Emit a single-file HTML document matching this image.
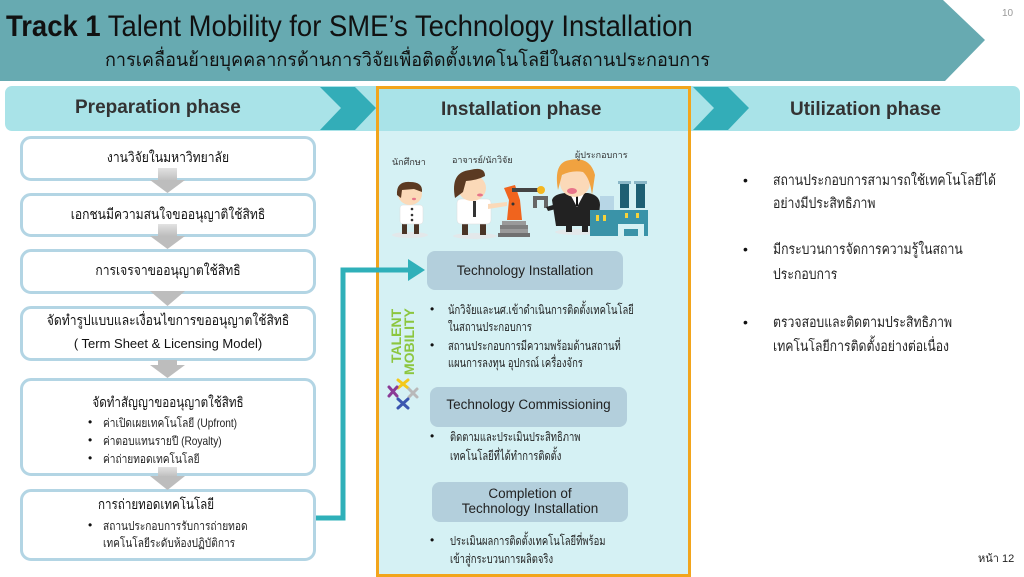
<!DOCTYPE html>
<html><head><meta charset="utf-8">
<style>
*{margin:0;padding:0;box-sizing:border-box}
html,body{width:1024px;height:577px;overflow:hidden;background:#fff}
body{position:relative;font-family:"Liberation Sans","DejaVu Sans",sans-serif;color:#111}
.a{position:absolute;white-space:nowrap}
.box{position:absolute;border:3px solid #b3d5e4;border-radius:11px;background:#fff}
.t{position:absolute;white-space:nowrap;font-size:14px;line-height:16px;transform:scaleX(0.865);transform-origin:center}
.tl{position:absolute;white-space:nowrap;font-size:14px;line-height:16px;transform:scaleX(0.83);transform-origin:0 0}
.c{text-align:center}
.bul{position:absolute;font-size:12.5px;line-height:18px;white-space:nowrap;color:#222;transform:scaleX(0.755);transform-origin:0 0}
.bl{position:absolute;font-size:12px;line-height:18px;white-space:nowrap;color:#222;transform:scaleX(0.845);transform-origin:0 0}
.dot{position:absolute;font-size:12px}
.rt{position:absolute;white-space:nowrap;font-size:14.5px;color:#222;transform:scaleX(0.845);transform-origin:0 0}
</style></head><body>

<svg class="a" style="left:0;top:0" width="1024" height="577" viewBox="0 0 1024 577">
  <polygon points="0,0 943,0 985,40 945,81 0,81" fill="#67aab1"/>
  <rect x="5" y="86" width="1015" height="45" rx="7" fill="#a9e3e8"/>
  <rect x="376" y="131" width="315" height="445" fill="#d5f1f4"/>
  <polygon points="320,87 355,87 376,108 355,130 320,130 341,108" fill="#33adb8"/>
  <polygon points="693,87 728,87 749,108 728,130 693,130 714,108" fill="#33adb8"/>
  <rect x="377.5" y="87.5" width="312" height="488" fill="none" stroke="#f2a51c" stroke-width="3"/>
  <polyline points="316,518 343,518 343,270 410,270" fill="none" stroke="#2fb0b9" stroke-width="5"/>
  <polygon points="408,259 425,270 408,281" fill="#2fb0b9"/>
  <rect x="427" y="251" width="196" height="39" rx="8" fill="#b3cfdc"/>
  <rect x="430" y="387" width="197" height="40" rx="8" fill="#b3cfdc"/>
  <rect x="432" y="482" width="196" height="40" rx="8" fill="#b3cfdc"/>

  <ellipse cx="410" cy="235" rx="18" ry="3" fill="#e3e8ea"/>
  <ellipse cx="475" cy="236" rx="22" ry="3" fill="#e3e8ea"/>
  <ellipse cx="577" cy="232" rx="22" ry="3" fill="#e3e8ea"/>
  <rect x="402" y="222" width="5" height="12" fill="#4a3426"/>
  <rect x="414" y="222" width="5" height="12" fill="#4a3426"/>
  <rect x="400" y="205" width="23" height="19" rx="3" fill="#fff" stroke="#ddd" stroke-width="0.5"/>
  <circle cx="412" cy="209" r="1.3" fill="#333"/><circle cx="412" cy="215" r="1.3" fill="#333"/><circle cx="412" cy="220" r="1.3" fill="#333"/>
  <ellipse cx="410" cy="194" rx="12" ry="11" fill="#fbd9b8"/>
  <path d="M397,195 Q396,181 410,182 Q423,182 422,192 L414,189 L402,190 L401,198 Z" fill="#5b3a22"/>
  <ellipse cx="414" cy="199" rx="2" ry="1.2" fill="#e8748a"/>
  <rect x="462" y="222" width="6" height="13" fill="#4a3426"/>
  <rect x="480" y="222" width="6" height="13" fill="#4a3426"/>
  <rect x="457" y="199" width="34" height="25" rx="4" fill="#fff" stroke="#ddd" stroke-width="0.5"/>
  <path d="M488,204 L507,202 L507,206 L488,209 Z" fill="#fbd9b8"/>
  <rect x="473" y="201" width="3" height="16" fill="#333"/>
  <ellipse cx="472" cy="188" rx="14" ry="13" fill="#fbd9b8"/>
  <path d="M455,198 Q450,172 470,170 Q485,166 485,176 Q478,180 466,181 L463,192 Z" fill="#5b3a22"/>
  <ellipse cx="480" cy="195" rx="3" ry="1.5" fill="#e8748a"/>
  <rect x="502" y="221" width="24" height="4" fill="#9a9a9a"/>
  <rect x="500" y="225" width="28" height="4" fill="#7f7f7f"/>
  <rect x="500" y="229" width="28" height="4" fill="#9a9a9a"/>
  <rect x="498" y="233" width="32" height="4" fill="#707070"/>
  <path d="M507,220 L509,200 L504,188 L515,185 L520,200 L522,220 Z" fill="#f0641e"/>
  <rect x="512" y="188" width="28" height="4" fill="#444"/>
  <circle cx="541" cy="190" r="4" fill="#f5b720"/>
  <circle cx="513" cy="204" r="1.5" fill="#333"/>
  <path d="M533,196 L548,196 L548,208 L544,208 L544,200 L537,200 L537,208 L533,208 Z" fill="#666"/>
  <rect x="566" y="224" width="6" height="8" fill="#222"/>
  <rect x="582" y="224" width="6" height="8" fill="#222"/>
  <path d="M552,200 Q554,194 565,193 L588,193 Q600,195 600,205 L598,226 L556,226 Z" fill="#222"/>
  <path d="M546,207 L560,203 L560,208 L548,211 Z" fill="#222"/>
  <path d="M570,194 L577,207 L584,194 Z" fill="#fff"/>
  <rect x="576" y="196" width="2" height="10" fill="#111"/>
  <ellipse cx="575" cy="183" rx="15" ry="14" fill="#fbd9b8"/>
  <path d="M558,190 Q553,162 570,160 Q590,156 595,175 L592,195 Q590,178 583,172 Q572,170 562,175 Z" fill="#f0a240"/>
  <ellipse cx="572" cy="191" rx="5" ry="3" fill="#e8748a"/>
  <rect x="600" y="196" width="14" height="16" fill="#b7d6e6"/>
  <rect x="620" y="183" width="9" height="25" fill="#1e5f73"/>
  <rect x="636" y="183" width="9" height="25" fill="#1e5f73"/>
  <rect x="618" y="181" width="13" height="3" fill="#8ab7c7"/>
  <rect x="634" y="181" width="13" height="3" fill="#8ab7c7"/>
  <rect x="590" y="210" width="58" height="26" fill="#3a93a8"/>
  <rect x="596" y="215" width="3" height="6" fill="#f5d33a"/><rect x="603" y="215" width="3" height="6" fill="#f5d33a"/>
  <rect x="625" y="213" width="3" height="5" fill="#f5d33a"/><rect x="636" y="213" width="3" height="5" fill="#f5d33a"/>
  <path d="M618,236 L618,224 L644,224 L644,236 L638,236 L638,229 L624,229 L624,236 Z" fill="#d5f1f4"/>

  <g stroke-width="3" stroke-linecap="round">
    <g stroke="#f3c81c"><line x1="398" y1="380" x2="408" y2="388"/><line x1="408" y1="380" x2="398" y2="388"/></g>
    <g stroke="#8b3a96"><line x1="389" y1="387" x2="397" y2="396"/><line x1="397" y1="387" x2="389" y2="396"/></g>
    <g stroke="#b9b9b9"><line x1="409" y1="389" x2="417" y2="397"/><line x1="417" y1="389" x2="409" y2="397"/></g>
    <g stroke="#3a56b0"><line x1="398" y1="399" x2="408" y2="408"/><line x1="408" y1="399" x2="398" y2="408"/></g>
  </g>
</svg>

<div class="a" style="left:6px;top:10px;font-size:30px;line-height:34px;transform:scaleX(0.915);transform-origin:0 0;color:#111"><b>Track 1</b> Talent Mobility for SME’s Technology Installation</div>
<div class="a" style="left:105px;top:49px;font-size:19px;line-height:24px;color:#111;transform:scaleX(0.95);transform-origin:0 0">การเคลื่อนย้ายบุคคลากรด้านการวิจัยเพื่อติดตั้งเทคโนโลยีในสถานประกอบการ</div>
<div class="a" style="left:1002px;top:8px;font-size:10px;color:#999">10</div>

<div class="a" style="left:75px;top:97px;font-size:19px;font-weight:bold;color:#333">Preparation phase</div>
<div class="a" style="left:441px;top:99px;font-size:19px;font-weight:bold;color:#333">Installation phase</div>
<div class="a" style="left:790px;top:99px;font-size:19px;font-weight:bold;color:#333">Utilization phase</div>

<div class="box" style="left:20px;top:136px;width:296px;height:45px"></div>
<div class="box" style="left:20px;top:193px;width:296px;height:44px"></div>
<div class="box" style="left:20px;top:249px;width:296px;height:45px"></div>
<div class="box" style="left:20px;top:306px;width:296px;height:55px"></div>
<div class="box" style="left:20px;top:378px;width:296px;height:98px"></div>
<div class="box" style="left:20px;top:489px;width:296px;height:72px"></div>

<svg class="a" style="left:0;top:0" width="340" height="577">
  <defs><linearGradient id="g" x1="0" y1="0" x2="0" y2="1"><stop offset="0" stop-color="#e2e2e2"/><stop offset="1" stop-color="#bdbdbd"/></linearGradient></defs>
  <rect x="158" y="168" width="19" height="13" fill="url(#g)"/><polygon points="150,180 185,180 167.5,193" fill="#bdbdbd"/>
  <rect x="158" y="224" width="19" height="12" fill="url(#g)"/><polygon points="150,236 185,236 167.5,249" fill="#bdbdbd"/>
  <polygon points="150,291 185,291 167.5,306" fill="#bdbdbd"/>
  <rect x="158" y="360" width="19" height="6" fill="#bdbdbd"/><polygon points="150,365 185,365 167.5,378" fill="#bdbdbd"/>
  <rect x="158" y="467" width="19" height="10" fill="url(#g)"/><polygon points="150,476 185,476 167.5,490" fill="#bdbdbd"/>
</svg>

<div class="t c" style="left:20px;top:149px;width:296px">งานวิจัยในมหาวิทยาลัย</div>
<div class="t c" style="left:20px;top:206px;width:296px">เอกชนมีความสนใจขออนุญาติใช้สิทธิ</div>
<div class="t c" style="left:20px;top:262px;width:296px">การเจรจาขออนุญาตใช้สิทธิ</div>
<div class="t c" style="left:20px;top:312px;width:296px">จัดทำรูปแบบและเงื่อนไขการขออนุญาตใช้สิทธิ</div>
<div class="t c" style="left:20px;top:336px;width:296px;font-size:13px;transform:none">( Term Sheet &amp; Licensing Model)</div>
<div class="t c" style="left:20px;top:394px;width:296px;transform:scaleX(0.83)">จัดทำสัญญาขออนุญาตใช้สิทธิ</div>
<div class="dot" style="left:88px;top:415px">•</div><div class="bl" style="left:103px;top:414px">ค่าเปิดเผยเทคโนโลยี (Upfront)</div>
<div class="dot" style="left:88px;top:433px">•</div><div class="bl" style="left:103px;top:432px">ค่าตอบแทนรายปี (Royalty)</div>
<div class="dot" style="left:88px;top:451px">•</div><div class="bl" style="left:103px;top:450px">ค่าถ่ายทอดเทคโนโลยี</div>
<div class="tl" style="left:98px;top:496px">การถ่ายทอดเทคโนโลยี</div>
<div class="dot" style="left:88px;top:518px">•</div><div class="bl" style="left:103px;top:517px">สถานประกอบการรับการถ่ายทอด</div>
<div class="bl" style="left:103px;top:534px">เทคโนโลยีระดับห้องปฏิบัติการ</div>

<div class="a" style="left:392px;top:155px;font-size:9px;color:#333">นักศึกษา</div>
<div class="a" style="left:452px;top:153px;font-size:9px;color:#333">อาจารย์/นักวิจัย</div>
<div class="a" style="left:575px;top:148px;font-size:9px;color:#333">ผู้ประกอบการ</div>

<div class="a" style="left:427px;top:263px;width:196px;text-align:center;font-size:13.5px;color:#222">Technology Installation</div>
<div class="dot" style="left:430px;top:302px">•</div><div class="bul" style="left:448px;top:301px">นักวิจัยและนศ.เข้าดำเนินการติดตั้งเทคโนโลยี</div>
<div class="bul" style="left:448px;top:318px">ในสถานประกอบการ</div>
<div class="dot" style="left:430px;top:338px">•</div><div class="bul" style="left:448px;top:337px">สถานประกอบการมีความพร้อมด้านสถานที่</div>
<div class="bul" style="left:448px;top:354px">แผนการลงทุน อุปกรณ์ เครื่องจักร</div>

<div class="a" style="left:430px;top:397px;width:197px;text-align:center;font-size:13.5px;color:#222">Technology Commissioning</div>
<div class="dot" style="left:430px;top:429px">•</div><div class="bul" style="left:450px;top:428px">ติดตามและประเมินประสิทธิภาพ</div>
<div class="bul" style="left:450px;top:447px">เทคโนโลยีที่ได้ทำการติดตั้ง</div>

<div class="a" style="left:432px;top:486px;width:196px;text-align:center;font-size:13.5px;line-height:15px;color:#222">Completion of<br>Technology Installation</div>
<div class="dot" style="left:430px;top:533px">•</div><div class="bul" style="left:450px;top:532px">ประเมินผลการติดตั้งเทคโนโลยีที่พร้อม</div>
<div class="bul" style="left:450px;top:550px">เข้าสู่กระบวนการผลิตจริง</div>

<div class="a" style="left:358px;top:325px;width:90px;transform:rotate(-90deg);transform-origin:center;font-size:14px;line-height:13px;font-weight:bold;color:#8cc63e;text-align:left">
<div style="padding-left:20px">TALENT</div><div style="padding-left:8px">MOBILITY</div></div>

<div class="dot" style="left:743px;top:172px;font-size:14px">•</div>
<div class="rt" style="left:773px;top:170px;line-height:23px">สถานประกอบการสามารถใช้เทคโนโลยีได้<br>อย่างมีประสิทธิภาพ</div>
<div class="dot" style="left:743px;top:241px;font-size:14px">•</div>
<div class="rt" style="left:773px;top:238px;line-height:25px">มีกระบวนการจัดการความรู้ในสถาน<br>ประกอบการ</div>
<div class="dot" style="left:743px;top:314px;font-size:14px">•</div>
<div class="rt" style="left:773px;top:311px;line-height:24px">ตรวจสอบและติดตามประสิทธิภาพ<br>เทคโนโลยีการติดตั้งอย่างต่อเนื่อง</div>

<div class="a" style="left:978px;top:549px;font-size:11px;color:#222">หน้า 12</div>
</body></html>
